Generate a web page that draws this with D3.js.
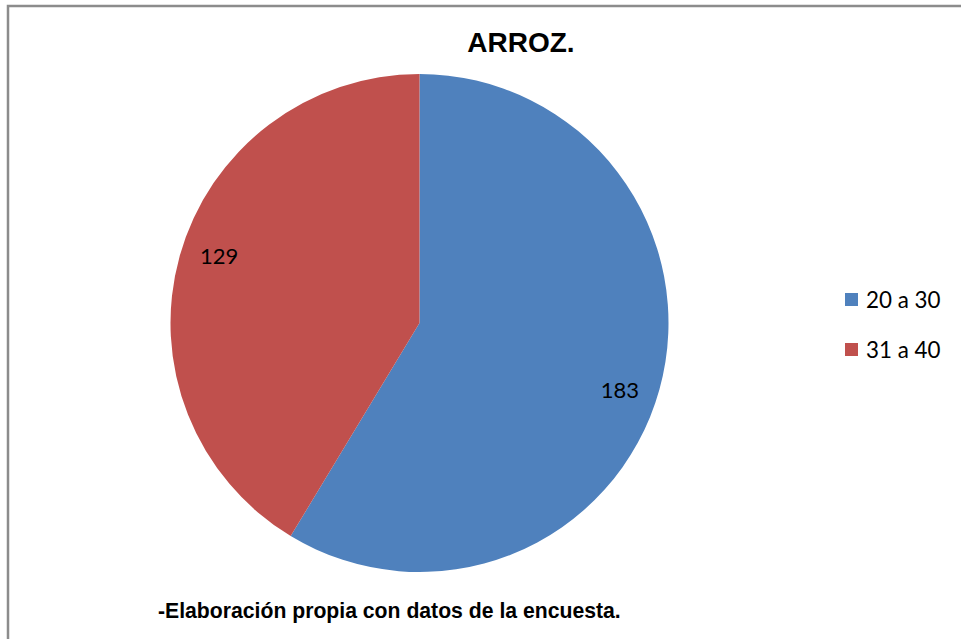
<!DOCTYPE html>
<html>
<head>
<meta charset="utf-8">
<script src="https://cdn.jsdelivr.net/npm/d3@7"></script>
<style>
  body { margin: 0; background: #fff; }
  svg { display: block; }
</style>
</head>
<body>
<div id="chart"></div>
<script>
// data
var categories = ["20 a 30", "31 a 40"];
var values = [183, 129];
var colors = ["#4F81BD", "#C0504D"];
var title = "ARROZ.";
var footer = "-Elaboración propia con datos de la encuesta.";

var width = 961,
    height = 639;

var svg = d3.select("#chart")
    .append("svg")
    .attr("width", width)
    .attr("height", height);

// outer border (only left and top visible)
svg.append("rect")
    .attr("x", 8)
    .attr("y", 6)
    .attr("width", width + 20)
    .attr("height", height + 20)
    .attr("fill", "#fff")
    .attr("stroke", "#8c8c8c")
    .attr("stroke-width", 2.5);

// title
svg.append("text")
    .attr("x", 521)
    .attr("y", 52)
    .attr("text-anchor", "middle")
    .style("font-family", "Liberation Sans, Arial, sans-serif")
    .style("font-weight", "bold")
    .style("font-size", "28px")
    .text(title);

// pie
var cx = 419.5, cy = 323, radius = 249;

var color = d3.scaleOrdinal()
    .domain(categories)
    .range(colors);

var pie = d3.pie()
    .sort(null)
    .value(function (d) { return d.value; });

var data = categories.map(function (c, i) {
    return { name: c, value: values[i] };
});

var arc = d3.arc()
    .innerRadius(0)
    .outerRadius(radius);

// labels sit a bit past the mid angle, like excel's best fit
var labelR = radius * 0.848;
function labelPos(d) {
    var a = (d.startAngle + d.endAngle) / 2 + 0.05;
    return [Math.sin(a) * labelR, -Math.cos(a) * labelR];
}

var g = svg.append("g")
    .attr("transform", "translate(" + cx + "," + cy + ")");

g.selectAll("path.slice")
    .data(pie(data))
    .enter()
    .append("path")
    .attr("class", "slice")
    .attr("d", arc)
    .attr("fill", function (d) { return color(d.data.name); });

g.selectAll("text.label")
    .data(pie(data))
    .enter()
    .append("text")
    .attr("class", "label")
    .attr("transform", function (d) { return "translate(" + labelPos(d) + ")"; })
    .attr("text-anchor", "middle")
    .attr("dy", "0.36em")
    .style("font-family", "Lato, sans-serif")
    .style("font-size", "22px")
    .style("fill", "#000")
    .text(function (d) { return d.data.value; });

// legend
var legend = svg.selectAll("g.legend")
    .data(categories)
    .enter()
    .append("g")
    .attr("class", "legend")
    .attr("transform", function (d, i) { return "translate(845," + (293 + i * 50) + ")"; });

legend.append("rect")
    .attr("width", 13)
    .attr("height", 13)
    .attr("fill", function (d) { return color(d); });

legend.append("text")
    .attr("x", 21)
    .attr("y", 15)
    .style("font-family", "Lato, sans-serif")
    .style("font-size", "22.4px")
    .text(function (d) { return d; });

// footer
svg.append("text")
    .attr("x", 158)
    .attr("y", 618)
    .style("font-family", "Liberation Sans, Arial, sans-serif")
    .style("font-weight", "bold")
    .style("font-size", "21.2px")
    .text(footer);
</script>
</body>
</html>
